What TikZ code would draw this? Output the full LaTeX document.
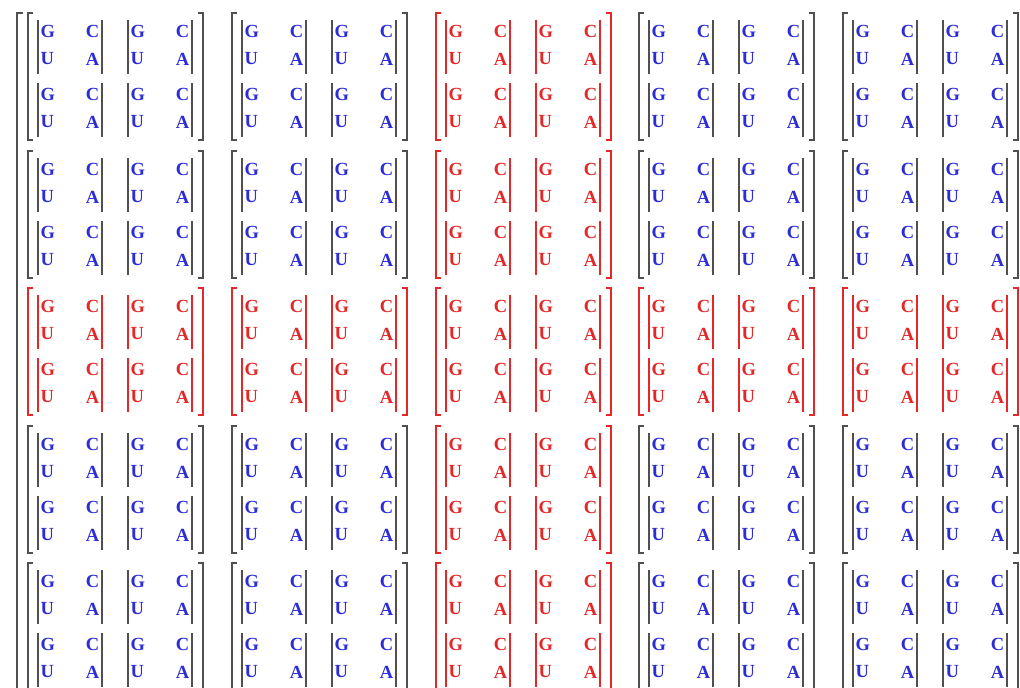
\documentclass[tikz,border=0pt]{standalone}
\usepackage{fontspec}
\setmainfont{Liberation Serif}
\definecolor{myblue}{RGB}{45,45,215}
\definecolor{myred}{RGB}{228,40,40}
\definecolor{mygray}{RGB}{80,80,80}
\tikzset{
  letter/.style={inner sep=0pt, font=\fontsize{18.5}{20}\selectfont\bfseries},
  barline/.style={line width=1.6pt},
  brk/.style={line width=1.6pt}
}
\begin{document}
\begin{tikzpicture}[x=1pt,y=-1pt]
\useasboundingbox (0,0) rectangle (1020,688);
\fill[white] (0,0) rectangle (1020,688);
\coordinate (otop) at (17,13);
\coordinate (obot) at (17,700);
\draw[brk,mygray] ([xshift=6pt]otop) -- (otop) -- (obot);
\foreach \i in {0,...,4}{
 \foreach \j in {0,...,4}{
  \pgfmathsetmacro\bx{round(28+\i*203.75)}
  \pgfmathsetmacro\by{round(13+\j*137.5)}
  \pgfmathtruncatemacro\isred{or(\i==2,\j==2)}
  \ifnum\isred=1 \def\lc{myred}\def\bc{myred}\else\def\lc{myblue}\def\bc{mygray}\fi
  \coordinate (B\i\j) at (\bx,\by);
  \draw[brk,\bc] ([xshift=5pt]B\i\j) -- (B\i\j) -- ++(0,127) -- ++(5,0);
  \draw[brk,\bc] ([xshift=170pt]B\i\j) -- ++(5,0) -- ++(0,127) -- ++(-5,0);
  \foreach \a in {0,1}{
   \foreach \b in {0,1}{
    \pgfmathsetmacro\dx{\bx+10+\a*90}
    \pgfmathsetmacro\dy{\by+7+\b*63}
    \draw[barline,\bc] (\dx,\dy) -- ++(0,54);
    \draw[barline,\bc] (\dx+64,\dy) -- ++(0,54);
    \node[letter,text=\lc,anchor=west] (G\i\j\a\b) at (\dx+2.5,\dy+11.5) {G};
    \node[letter,text=\lc,anchor=east] (C\i\j\a\b) at (\dx+61.5,\dy+11.5) {C};
    \node[letter,text=\lc,anchor=west] (U\i\j\a\b) at (\dx+2.5,\dy+39) {U};
    \node[letter,text=\lc,anchor=east] (A\i\j\a\b) at (\dx+61.5,\dy+39) {A};
   }
  }
 }
}
\end{tikzpicture}
\end{document}
